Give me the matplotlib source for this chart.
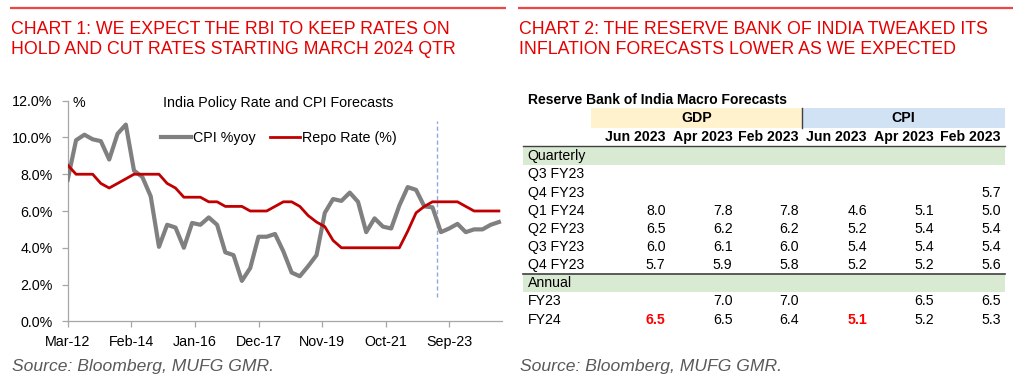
import numpy as np
import pandas as pd
import matplotlib
matplotlib.use("Agg")
import matplotlib.pyplot as plt
from matplotlib.patches import Rectangle

plt.rcParams['font.family'] = ['Liberation Sans', 'DejaVu Sans']

# ---------------- data: chart 1 (quarterly, Mar-12 .. Mar-25)
dates = pd.date_range('2012-03-01', periods=53, freq='QS-MAR')
cpi = [7.7, 9.85, 10.15, 9.9, 9.8, 8.8, 10.2, 10.7, 8.2, 7.85,
       6.8, 4.05, 5.25, 5.1, 4.0, 5.35, 5.25, 5.65, 5.25, 3.75,
       3.6, 2.2, 2.9, 4.6, 4.6, 4.75, 3.8, 2.65, 2.45, 3.0,
       3.6, 5.9, 6.65, 6.55, 7.0, 6.5, 4.85, 5.6, 5.15, 5.05,
       6.3, 7.3, 7.15, 6.25, 6.2, 4.85, 5.05, 5.3, 4.85, 5.0,
       5.0, 5.25, 5.4]
repo = [8.5, 8.0, 8.0, 8.0, 7.5, 7.25, 7.5, 7.75, 8.0, 8.0,
        8.0, 8.0, 7.5, 7.25, 6.75, 6.75, 6.75, 6.5, 6.5, 6.25,
        6.25, 6.25, 6.0, 6.0, 6.0, 6.25, 6.5, 6.5, 6.25, 5.75,
        5.4, 5.15, 4.4, 4.0, 4.0, 4.0, 4.0, 4.0, 4.0, 4.0,
        4.0, 4.9, 5.9, 6.25, 6.5, 6.5, 6.5, 6.5, 6.25, 6.0,
        6.0, 6.0, 6.0]
tick_dates = pd.date_range('2012-03-01', periods=7, freq='23MS')
tick_labels = ['Mar-12', 'Feb-14', 'Jan-16', 'Dec-17', 'Nov-19', 'Oct-21', 'Sep-23']
forecast_start = pd.Timestamp('2023-04-15')

# ---------------- data: chart 2 (table)
col_groups = ['GDP', 'CPI']
col_dates = ['Jun 2023', 'Apr 2023', 'Feb 2023']
q_labels = ['Q3 FY23', 'Q4 FY23', 'Q1 FY24', 'Q2 FY23', 'Q3 FY23', 'Q4 FY23']
q_values = [
    [None, None, None, None, None, None],
    [None, None, None, None, None, 5.7],
    [8.0, 7.8, 7.8, 4.6, 5.1, 5.0],
    [6.5, 6.2, 6.2, 5.2, 5.4, 5.4],
    [6.0, 6.1, 6.0, 5.4, 5.4, 5.4],
    [5.7, 5.9, 5.8, 5.2, 5.2, 5.6],
]
a_labels = ['FY23', 'FY24']
a_values = [
    [None, 7.0, 7.0, None, 6.5, 6.5],
    [6.5, 6.5, 6.4, 5.1, 5.2, 5.3],
]
highlight = [(1, 0), (1, 3)]   # annual FY24, Jun 2023 columns

RED = '#E60000'
W, H = 1022, 390
fig = plt.figure(figsize=(W / 100, H / 100), dpi=100)

# overlay in pixel coordinates for titles + table
ov = fig.add_axes([0, 0, 1, 1])
ov.set_xlim(0, W)
ov.set_ylim(H, 0)
ov.axis('off')

for x0, x1, title in [(10, 506, ['CHART 1: WE EXPECT THE RBI TO KEEP RATES ON',
                                 'HOLD AND CUT RATES STARTING MARCH 2024 QTR']),
                      (518, 1013, ['CHART 2: THE RESERVE BANK OF INDIA TWEAKED ITS',
                                   'INFLATION FORECASTS LOWER AS WE EXPECTED'])]:
    ov.plot([x0, x1], [7.5, 7.5], color='#EE4444', lw=1.6, solid_capstyle='butt')
    ov.text(x0 + 1, 30, title[0], color=RED, fontsize=12.8, va='center')
    ov.text(x0 + 1, 50, title[1], color=RED, fontsize=12.8, va='center')
    ov.text(x0 + 1.5, 366.5, 'Source: Bloomberg, MUFG GMR.', color='#595959',
            fontsize=12.6, style='italic', va='center')

# ---------------- chart 1
ax = fig.add_axes([67.7 / W, 1 - 321.3 / H, 434 / W, 220.6 / H])
ax.plot(dates, cpi, color='#808080', lw=3.0, label='CPI %yoy', zorder=3)
ax.plot(dates, repo, color='#C00000', lw=2.0, label='Repo Rate (%)', zorder=4)
ax.axvline(forecast_start, ymin=0.11, ymax=0.91, color='#8FA8E0', lw=1.0,
           ls=(0, (3, 2)), zorder=2)
ax.set_xlim(dates[0], pd.Timestamp('2025-04-01'))
ax.set_ylim(0, 12)
ax.set_yticks(np.arange(0, 12.1, 2))
ax.set_yticklabels([f'{v:.1f}%' for v in np.arange(0, 12.1, 2)])
ax.set_xticks(tick_dates)
ax.set_xticklabels(tick_labels)
for s in ['top', 'right']:
    ax.spines[s].set_visible(False)
for s in ['left', 'bottom']:
    ax.spines[s].set_color('#A6A6A6')
    ax.spines[s].set_linewidth(0.9)
ax.tick_params(axis='both', colors='#A6A6A6', labelcolor='black', labelsize=10.3,
               length=4, width=0.9)
ax.tick_params(axis='y', pad=7)
ax.tick_params(axis='x', pad=6)
ax.text(0.012, 0.99, '%', transform=ax.transAxes, fontsize=10.3, va='center')
ax.text(0.485, 0.99, 'India Policy Rate and CPI Forecasts', transform=ax.transAxes,
        fontsize=10.3, ha='center', va='center')
ax.legend(loc='center', bbox_to_anchor=(0.487, 0.832), ncol=2, frameon=False,
          fontsize=10.3, handlelength=2.1, handletextpad=0.15, columnspacing=1.0,
          borderpad=0, borderaxespad=0)

# ---------------- chart 2 (table)
tx = 527.5
col_right = [665.5, 732.5, 799, 867, 934, 1001]
table_l, table_r = 523, 1005
pitch = 18.17
ov.text(tx, 99.5, 'Reserve Bank of India Macro Forecasts', fontsize=10,
        fontweight='bold', va='center')
ov.add_patch(Rectangle((591, 108.3), 802 - 591, 19.4, color='#FFF2CC', lw=0))
ov.add_patch(Rectangle((802, 108.3), table_r - 802, 19.4, color='#D0E2F4', lw=0))
ov.plot([802, 802], [108.3, 127.7], color='#404040', lw=1.0)
ov.text(696.5, 118, col_groups[0], fontsize=10.2, fontweight='bold', ha='center', va='center')
ov.text(903.5, 118, col_groups[1], fontsize=10.2, fontweight='bold', ha='center', va='center')
for j, xr in enumerate(col_right):
    ov.text(xr, 137.3, col_dates[j % 3], fontsize=10.2, fontweight='bold',
            ha='right', va='center')
ov.plot([table_l, table_r], [146.3, 146.3], color='#404040', lw=1.0)


def section(y_band, name, labels, values, annual=False):
    ov.add_patch(Rectangle((table_l, y_band), table_r - table_l, 17.5,
                           color='#D9EAD3', lw=0))
    ov.text(tx, y_band + 9, name, fontsize=10.2, va='center')
    for i, (lab, row) in enumerate(zip(labels, values)):
        y = y_band + 9 + pitch * (i + 1)
        ov.text(tx, y, lab, fontsize=10.2, va='center')
        for j, v in enumerate(row):
            if v is None:
                continue
            hl = annual and (i, j) in highlight
            ov.text(col_right[j], y, f'{v:.1f}', fontsize=10.2, ha='right', va='center',
                    color='#FF0000' if hl else 'black',
                    fontweight='bold' if hl else 'normal')


section(147.3, 'Quarterly', q_labels, q_values)
ov.plot([table_l, table_r], [273.5, 273.5], color='#404040', lw=1.2)
section(274.3, 'Annual', a_labels, a_values, annual=True)

fig.savefig('out.png', dpi=100)
